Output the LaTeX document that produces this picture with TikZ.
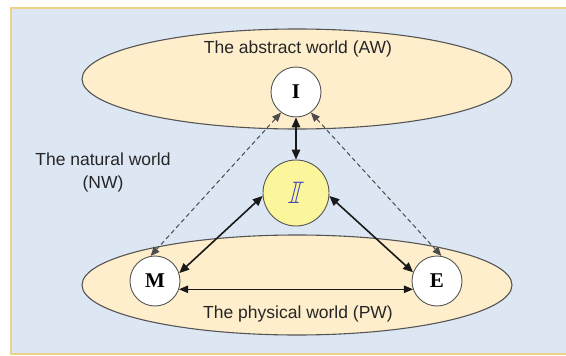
\documentclass[tikz,border=0pt]{standalone}
\usepackage{fontspec}
\usepackage{amssymb}
\setmainfont{Liberation Sans}
\newfontfamily\serifb{Liberation Serif}
\usetikzlibrary{arrows.meta,shapes.geometric}
\definecolor{bgblue}{HTML}{DDE7F4}
\definecolor{bgborder}{HTML}{EBD38A}
\definecolor{peach}{HTML}{FEEECB}
\definecolor{ringgray}{HTML}{555555}
\definecolor{yel}{HTML}{FBF59C}
\definecolor{glyphblue}{HTML}{4848B8}
\begin{document}
\begin{tikzpicture}[x=1pt,y=-1pt,
  worldell/.style={ellipse,draw=ringgray,fill=peach,line width=1.1pt,inner sep=0pt,minimum width=430pt,minimum height=100pt},
  circ/.style={circle,draw=ringgray,fill=white,line width=0.9pt,inner sep=0pt,minimum size=50pt,font=\serifb\bfseries\fontsize{21}{24}\selectfont},
  lbl/.style={font=\fontsize{17.5}{21}\selectfont,text=black!85,inner sep=0pt,align=center},
  thickarr/.style={line width=1.6pt,draw=black!90,{Triangle[length=10pt,width=8.5pt]}-{Triangle[length=10pt,width=8.5pt]}},
  thinarr/.style={line width=0.9pt,draw=black!90,{Triangle[length=9pt,width=7.5pt]}-{Triangle[length=9pt,width=7.5pt]}},
  dasharr/.style={line width=1pt,draw=black!70,dash pattern=on 4.5pt off 3pt,{Triangle[length=9pt,width=7.5pt]}-{Triangle[length=9pt,width=7.5pt]}}
]
\useasboundingbox (0,0) rectangle (566,356);
\fill[white] (0,0) rectangle (566,356);
\draw[draw=bgborder,fill=bgblue,line width=1.5pt] (11,8) rectangle (572,354);
\node[worldell] (AW) at (297,79) {};
\node[worldell] (PW) at (297,285) {};
\node[lbl] (AWt) at (298,49) {The abstract world (AW)};
\node[lbl] (PWt) at (298,314) {The physical world (PW)};
\node[lbl] (NWt) at (103,172) {The natural world\\[2pt](NW)};
\node[circ] (I) at (296,92) {I};
\node[circ] (M) at (155,281) {M};
\node[circ] (E) at (437,281) {E};
\node[circle,draw=ringgray,fill=yel,line width=0.9pt,inner sep=0pt,minimum size=66pt] (II) at (296,193) {};
\node[text=glyphblue,xslant=0.25,inner sep=0pt,font=\fontsize{31}{34}\selectfont] (IIg) at (II.center) {$\mathbb{I}$};
\draw[thickarr] (I.south) -- (II.north);
\draw[thickarr] (II.185) -- (M.18);
\draw[thickarr] (II.-5) -- (E.160);
\draw[thinarr] (M.-19) -- (E.199);
\draw[dasharr] (I.234) -- (M.100);
\draw[dasharr] (I.-54) -- (E.80);
\end{tikzpicture}
\end{document}
